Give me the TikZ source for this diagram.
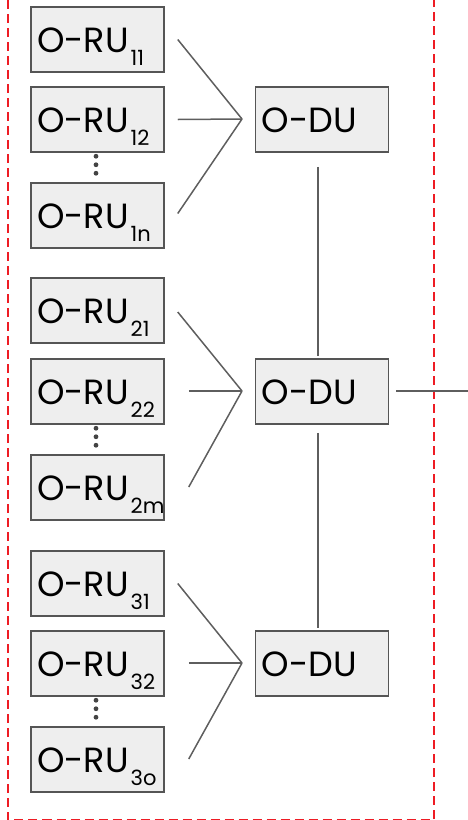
\documentclass[tikz,border=0pt]{standalone}
\usepackage{fontspec}
\setmainfont{Poppins}
\definecolor{boxfill}{HTML}{EEEEEE}
\definecolor{boxedge}{HTML}{555555}
\definecolor{wire}{HTML}{5E5E5E}
\definecolor{frame}{HTML}{EE1C24}
\definecolor{dotgray}{HTML}{444444}
% label of a radio unit: name with a lowered index, left aligned in the box
\newcommand{\rulabel}[1]{\makebox[121pt][l]{O-RU\kern2pt\raisebox{-13pt}{\fontsize{21}{21}\selectfont #1}}}
\newcommand{\dulabel}{\makebox[121pt][l]{O-DU}}
\tikzset{
  unit/.style={draw=boxedge, fill=boxfill, line width=1.5pt,
    minimum width=133pt, minimum height=65pt, inner xsep=6pt, inner ysep=0pt,
    text height=26pt, text depth=0pt,
    font=\fontsize{35}{35}\selectfont},
  link/.style={draw=wire, line width=1.5pt},
  border/.style={draw=frame, line width=1.8pt, dash pattern=on 9pt off 5pt},
  ellip/.style={fill=dotgray, circle, inner sep=0pt, minimum size=4.8pt}
}
\begin{document}
\begin{tikzpicture}[x=1pt, y=-1pt]
\useasboundingbox (0,0) rectangle (468,820);

% dashed boundary (open at the top)
\coordinate (f1) at (8,0);
\coordinate (f2) at (8,819.5);
\coordinate (f3) at (434,819.5);
\coordinate (f4) at (434,0);
\draw[border] (f1) -- (f2) -- (f3) -- (f4);

% radio units
\node[unit] (r11) at (97.5,39.5)  {\rulabel{11}};
\node[unit] (r12) at (97.5,119.5) {\rulabel{12}};
\node[unit] (r1n) at (97.5,215.5) {\rulabel{1n}};
\node[unit] (r21) at (97.5,310.5) {\rulabel{21}};
\node[unit] (r22) at (97.5,391.5) {\rulabel{22}};
\node[unit] (r2m) at (97.5,487.5) {\rulabel{2m}};
\node[unit] (r31) at (97.5,583.5) {\rulabel{31}};
\node[unit] (r32) at (97.5,663.5) {\rulabel{32}};
\node[unit] (r3o) at (97.5,759.5) {\rulabel{3o}};

% distributed units
\node[unit] (d1) at (322,119.5) {\dulabel};
\node[unit] (d2) at (322,391.5) {\dulabel};
\node[unit] (d3) at (322,663.5) {\dulabel};

% vertical ellipses between units
\foreach \r in {r12,r22,r32}{
  \node[ellip] (\r a) at ([xshift=-1.5pt,yshift=-3.5pt]\r.south) {};
  \node[ellip] (\r b) at ([xshift=-1.5pt,yshift=-12pt]\r.south) {};
  \node[ellip] (\r c) at ([xshift=-1.5pt,yshift=-20.5pt]\r.south) {};
}

% fan-in points
\coordinate (m1) at (242,119);
\coordinate (m2) at (242,391);
\coordinate (m3) at (242,663);

% group 1
\draw[link] ([xshift=13pt]r11.east) -- (m1);
\draw[link] ([xshift=13pt]r12.east) -- (m1);
\draw[link] ([xshift=13pt,yshift=2pt]r1n.east) -- (m1);
% group 2
\draw[link] ([xshift=13pt,yshift=-1.5pt]r21.east) -- (m2);
\draw[link] ([xshift=24pt,yshift=0.5pt]r22.east) -- (m2);
\draw[link] ([xshift=24pt,yshift=0.5pt]r2m.east) -- (m2);
% group 3
\draw[link] ([xshift=13pt]r31.east) -- (m3);
\draw[link] ([xshift=24pt,yshift=0.5pt]r32.east) -- (m3);
\draw[link] ([xshift=24pt,yshift=0.5pt]r3o.east) -- (m3);

% links between distributed units
\draw[link] ([xshift=-4pt,yshift=-14pt]d1.south) -- ([xshift=-4pt,yshift=2pt]d2.north);
\draw[link] ([xshift=-4pt,yshift=-8pt]d2.south) -- ([xshift=-4pt,yshift=2pt]d3.north);

% outgoing link
\coordinate (out) at (468,391);
\draw[link] ([xshift=7pt,yshift=0.5pt]d2.east) -- (out);
\end{tikzpicture}
\end{document}
